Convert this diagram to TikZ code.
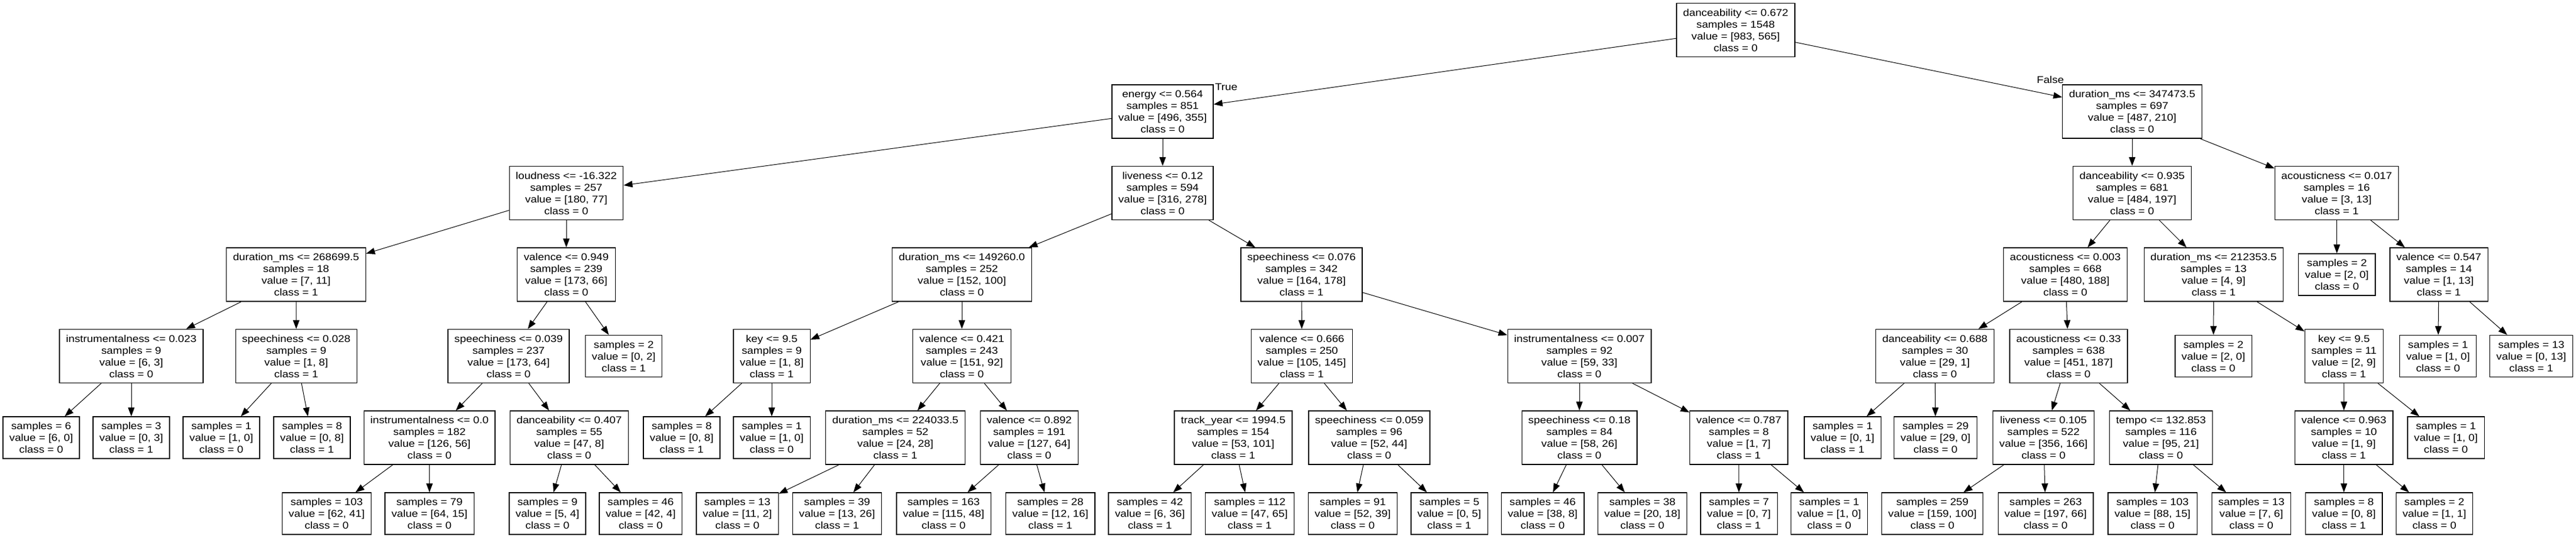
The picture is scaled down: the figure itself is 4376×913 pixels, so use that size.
\documentclass[tikz,border=0pt]{standalone}
\usepackage{fontspec}
\setmainfont[FakeStretch=1.12]{Liberation Sans}
\usetikzlibrary{arrows.meta}
\tikzset{
  box/.style={draw=black, line width=1.3pt, fill=white, align=center, inner xsep=11pt, inner ysep=0pt,
    minimum width=129pt, font=\fontsize{16.8}{20}\selectfont},
  inode/.style={box, minimum height=91pt},
  leaf/.style={box, minimum height=71pt},
  edge/.style={line width=1pt, -{Triangle[length=15pt,width=11pt]}},
  lab/.style={font=\fontsize{16.8}{20}\selectfont, inner sep=0pt}
}
\begin{document}
\begin{tikzpicture}[x=1pt,y=-1pt]
\fill[white] (0,0) rectangle (4376,913);
\useasboundingbox (0,0) rectangle (4376,913);
% level 0
\node[inode] (n0) at (2948.5,51) {danceability <= 0.672\\samples = 1548\\value = [983, 565]\\class = 0};
% level 1
\node[inode] (a) at (1975,189.5) {energy <= 0.564\\samples = 851\\value = [496, 355]\\class = 0};
\node[inode] (b) at (3622,189.5) {duration\_ms <= 347473.5\\samples = 697\\value = [487, 210]\\class = 0};
% level 2
\node[inode] (aa) at (962,328) {loudness <= -16.322\\samples = 257\\value = [180, 77]\\class = 0};
\node[inode] (ab) at (1975,328) {liveness <= 0.12\\samples = 594\\value = [316, 278]\\class = 0};
\node[inode] (ba) at (3622,328) {danceability <= 0.935\\samples = 681\\value = [484, 197]\\class = 0};
\node[inode] (bb) at (3969.5,328) {acousticness <= 0.017\\samples = 16\\value = [3, 13]\\class = 1};
% level 3
\node[inode] (aaa) at (503,466.5) {duration\_ms <= 268699.5\\samples = 18\\value = [7, 11]\\class = 1};
\node[inode] (aab) at (962,466.5) {valence <= 0.949\\samples = 239\\value = [173, 66]\\class = 0};
\node[inode] (aba) at (1634,466.5) {duration\_ms <= 149260.0\\samples = 252\\value = [152, 100]\\class = 0};
\node[inode] (abb) at (2211,466.5) {speechiness <= 0.076\\samples = 342\\value = [164, 178]\\class = 1};
\node[inode] (baa) at (3508.5,466.5) {acousticness <= 0.003\\samples = 668\\value = [480, 188]\\class = 0};
\node[inode] (bab) at (3760.4,466.5) {duration\_ms <= 212353.5\\samples = 13\\value = [4, 9]\\class = 1};
\node[leaf] (bba) at (3969.8,466.5) {samples = 2\\value = [2, 0]\\class = 0};
\node[inode] (bbb) at (4143,466.5) {valence <= 0.547\\samples = 14\\value = [1, 13]\\class = 1};
% level 4
\node[inode] (aaaa) at (223,605) {instrumentalness <= 0.023\\samples = 9\\value = [6, 3]\\class = 0};
\node[inode] (aaab) at (503.3,605) {speechiness <= 0.028\\samples = 9\\value = [1, 8]\\class = 1};
\node[inode] (aaba) at (864,605) {speechiness <= 0.039\\samples = 237\\value = [173, 64]\\class = 0};
\node[leaf] (aabb) at (1059.6,605) {samples = 2\\value = [0, 2]\\class = 1};
\node[inode] (abaa) at (1311,605) {key <= 9.5\\samples = 9\\value = [1, 8]\\class = 1};
\node[inode] (abab) at (1634,605) {valence <= 0.421\\samples = 243\\value = [151, 92]\\class = 0};
\node[inode] (abba) at (2211.5,605) {valence <= 0.666\\samples = 250\\value = [105, 145]\\class = 1};
\node[inode] (abbb) at (2683,605) {instrumentalness <= 0.007\\samples = 92\\value = [59, 33]\\class = 0};
\node[inode] (baaa) at (3287,605) {danceability <= 0.688\\samples = 30\\value = [29, 1]\\class = 0};
\node[inode] (baab) at (3514,605) {acousticness <= 0.33\\samples = 638\\value = [451, 187]\\class = 0};
\node[leaf] (baba) at (3760,605) {samples = 2\\value = [2, 0]\\class = 0};
\node[inode] (babb) at (3981.8,605) {key <= 9.5\\samples = 11\\value = [2, 9]\\class = 1};
\node[leaf] (bbba) at (4141.6,605) {samples = 1\\value = [1, 0]\\class = 0};
\node[leaf] (bbbb) at (4300,605) {samples = 13\\value = [0, 13]\\class = 1};
% level 5
\node[leaf] (aaaaa) at (70,743.5) {samples = 6\\value = [6, 0]\\class = 0};
\node[leaf] (aaaab) at (223,743.5) {samples = 3\\value = [0, 3]\\class = 1};
\node[leaf] (aaaba) at (376,743.5) {samples = 1\\value = [1, 0]\\class = 0};
\node[leaf] (aaabb) at (530,743.5) {samples = 8\\value = [0, 8]\\class = 1};
\node[inode] (aabaa) at (729.6,743.5) {instrumentalness <= 0.0\\samples = 182\\value = [126, 56]\\class = 0};
\node[inode] (aabab) at (967,743.5) {danceability <= 0.407\\samples = 55\\value = [47, 8]\\class = 0};
\node[leaf] (abaaa) at (1158,743.5) {samples = 8\\value = [0, 8]\\class = 1};
\node[leaf] (abaab) at (1311,743.5) {samples = 1\\value = [1, 0]\\class = 0};
\node[inode] (ababa) at (1521,743.5) {duration\_ms <= 224033.5\\samples = 52\\value = [24, 28]\\class = 1};
\node[inode] (ababb) at (1748.5,743.5) {valence <= 0.892\\samples = 191\\value = [127, 64]\\class = 0};
\node[inode] (abbaa) at (2095,743.5) {track\_year <= 1994.5\\samples = 154\\value = [53, 101]\\class = 1};
\node[inode] (abbab) at (2326,743.5) {speechiness <= 0.059\\samples = 96\\value = [52, 44]\\class = 0};
\node[inode] (abbba) at (2683,743.5) {speechiness <= 0.18\\samples = 84\\value = [58, 26]\\class = 0};
\node[inode] (abbbb) at (2953.8,743.5) {valence <= 0.787\\samples = 8\\value = [1, 7]\\class = 1};
\node[leaf] (baaaa) at (3130,743.5) {samples = 1\\value = [0, 1]\\class = 1};
\node[leaf] (baaab) at (3288,743.5) {samples = 29\\value = [29, 0]\\class = 0};
\node[inode] (baaba) at (3471.4,743.5) {liveness <= 0.105\\samples = 522\\value = [356, 166]\\class = 0};
\node[inode] (baabb) at (3671,743.5) {tempo <= 132.853\\samples = 116\\value = [95, 21]\\class = 0};
\node[inode] (babba) at (3981.7,743.5) {valence <= 0.963\\samples = 10\\value = [1, 9]\\class = 1};
\node[leaf] (babbb) at (4155,743.5) {samples = 1\\value = [1, 0]\\class = 0};
% level 6
\node[leaf] (aabaaa) at (555,872.5) {samples = 103\\value = [62, 41]\\class = 0};
\node[leaf] (aabaab) at (729.6,872.5) {samples = 79\\value = [64, 15]\\class = 0};
\node[leaf] (aababa) at (930,872.5) {samples = 9\\value = [5, 4]\\class = 0};
\node[leaf] (aababb) at (1088.4,872.5) {samples = 46\\value = [42, 4]\\class = 0};
\node[leaf] (ababaa) at (1252.6,872.5) {samples = 13\\value = [11, 2]\\class = 0};
\node[leaf] (ababab) at (1422,872.5) {samples = 39\\value = [13, 26]\\class = 1};
\node[leaf] (ababba) at (1603,872.5) {samples = 163\\value = [115, 48]\\class = 0};
\node[leaf] (ababbb) at (1784.3,872.5) {samples = 28\\value = [12, 16]\\class = 1};
\node[leaf] (abbaaa) at (1953.4,872.5) {samples = 42\\value = [6, 36]\\class = 1};
\node[leaf] (abbaab) at (2123,872.5) {samples = 112\\value = [47, 65]\\class = 1};
\node[leaf] (abbaba) at (2298,872.5) {samples = 91\\value = [52, 39]\\class = 0};
\node[leaf] (abbabb) at (2462,872.5) {samples = 5\\value = [0, 5]\\class = 1};
\node[leaf] (abbbaa) at (2620.6,872.5) {samples = 46\\value = [38, 8]\\class = 0};
\node[leaf] (abbbab) at (2790,872.5) {samples = 38\\value = [20, 18]\\class = 0};
\node[leaf] (abbbba) at (2954,872.5) {samples = 7\\value = [0, 7]\\class = 1};
\node[leaf] (abbbbb) at (3107.4,872.5) {samples = 1\\value = [1, 0]\\class = 0};
\node[leaf] (baabaa) at (3282.7,872.5) {samples = 259\\value = [159, 100]\\class = 0};
\node[leaf] (baabab) at (3475,872.5) {samples = 263\\value = [197, 66]\\class = 0};
\node[leaf] (baabba) at (3656.6,872.5) {samples = 103\\value = [88, 15]\\class = 0};
\node[leaf] (baabbb) at (3824.5,872.5) {samples = 13\\value = [7, 6]\\class = 0};
\node[leaf] (babbaa) at (3981.7,872.5) {samples = 8\\value = [0, 8]\\class = 1};
\node[leaf] (babbab) at (4135.4,872.5) {samples = 2\\value = [1, 1]\\class = 0};
% edges
\foreach \p/\c in {n0/a, n0/b, a/aa, a/ab, b/ba, b/bb,
  aa/aaa, aa/aab, ab/aba, ab/abb, ba/baa, ba/bab, bb/bba, bb/bbb,
  aaa/aaaa, aaa/aaab, aab/aaba, aab/aabb, aba/abaa, aba/abab, abb/abba, abb/abbb,
  baa/baaa, baa/baab, bab/baba, bab/babb, bbb/bbba, bbb/bbbb,
  aaaa/aaaaa, aaaa/aaaab, aaab/aaaba, aaab/aaabb, aaba/aabaa, aaba/aabab,
  abaa/abaaa, abaa/abaab, abab/ababa, abab/ababb, abba/abbaa, abba/abbab,
  abbb/abbba, abbb/abbbb, baaa/baaaa, baaa/baaab, baab/baaba, baab/baabb,
  babb/babba, babb/babbb,
  aabaa/aabaaa, aabaa/aabaab, aabab/aababa, aabab/aababb,
  ababa/ababaa, ababa/ababab, ababb/ababba, ababb/ababbb,
  abbaa/abbaaa, abbaa/abbaab, abbab/abbaba, abbab/abbabb,
  abbba/abbbaa, abbba/abbbab, abbbb/abbbba, abbbb/abbbbb,
  baaba/baabaa, baaba/baabab, baabb/baabba, baabb/baabbb,
  babba/babbaa, babba/babbab}
  \draw[edge] (\p) -- (\c);
\node[lab] (ltrue) at (2083,148) {True};
\node[lab] (lfalse) at (3483,135) {False};
\end{tikzpicture}
\end{document}
